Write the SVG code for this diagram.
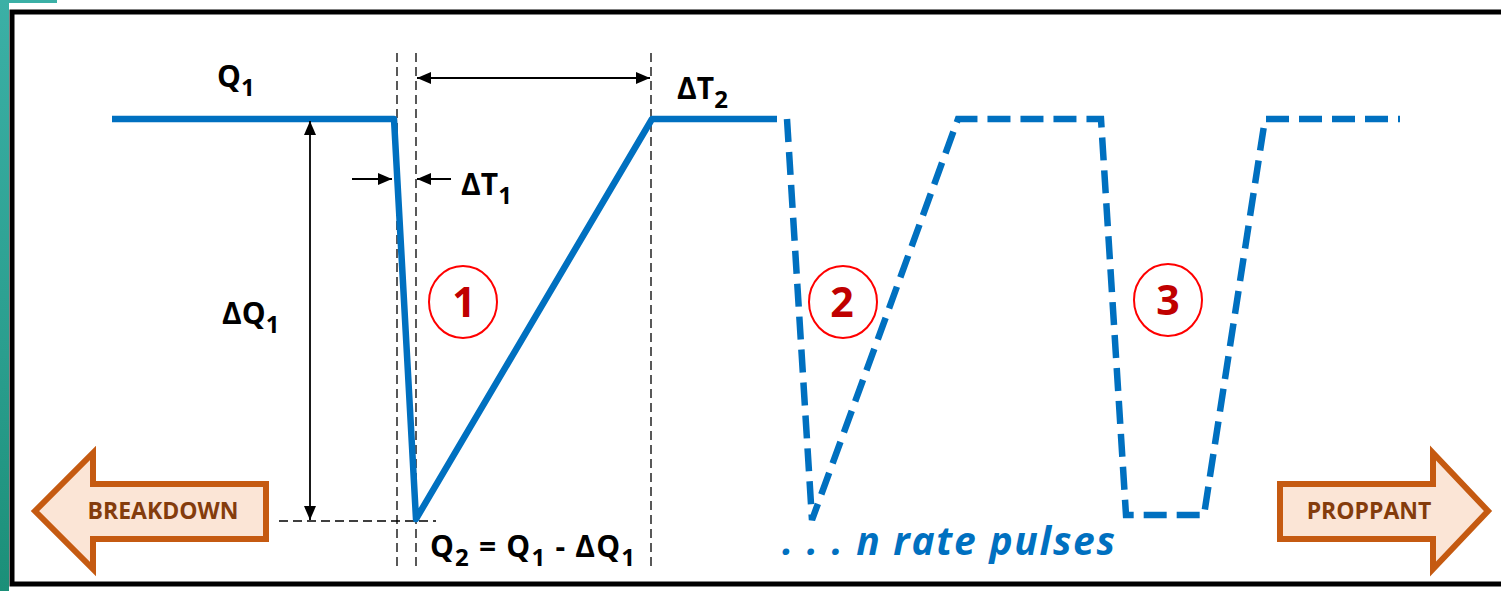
<svg xmlns="http://www.w3.org/2000/svg" width="1501" height="591" viewBox="0 0 1501 591">
<defs>
<linearGradient id="teal" x1="0" y1="0" x2="0" y2="1"><stop offset="0" stop-color="#3BB0A6"/><stop offset="0.6" stop-color="#2A9E8E"/><stop offset="1" stop-color="#1B8F78"/></linearGradient>
<marker id="ah" markerUnits="userSpaceOnUse" markerWidth="14" markerHeight="12" refX="14" refY="6" orient="auto-start-reverse" viewBox="0 0 14 12"><path d="M0,0 L14,6 L0,12 Z" fill="#000"/></marker>
</defs>
<style>
.t{font-family:"Open Sans","Liberation Sans",sans-serif;font-weight:bold;fill:#000;font-size:30px;white-space:pre}
.sub{font-size:24px}
.dim{stroke:#000;stroke-width:1.3;stroke-dasharray:9 5;fill:none}
.arr{stroke:#000;stroke-width:1.8;fill:none}
.rate{fill:none;stroke:#0070C0;stroke-width:6.5}
.numc{fill:none;stroke:#FF0000;stroke-width:2}
.num{font-family:"Open Sans","Liberation Sans",sans-serif;font-weight:bold;font-size:41px;fill:#C00000;text-anchor:middle}
.big{fill:#FBE5D6;stroke:#C55A11;stroke-width:6;stroke-linejoin:miter}
.bl{font-family:"Open Sans","Liberation Sans",sans-serif;font-weight:bold;font-size:23px;fill:#843C0C;text-anchor:middle}
</style>
<rect width="1501" height="591" fill="#FFFFFF"/>
<rect x="0" y="0" width="9" height="591" fill="url(#teal)"/>
<rect x="0" y="0" width="57" height="3" fill="#3BB0A6"/>
<rect x="12" y="12" width="1500" height="572" fill="none" stroke="#000" stroke-width="5"/>

<g id="guides">
<line class="dim" x1="397" y1="53" x2="397" y2="567"/>
<line class="dim" x1="416" y1="53" x2="416" y2="567"/>
<line class="dim" x1="651" y1="53" x2="651" y2="567"/>
<line class="dim" x1="279" y1="521" x2="436" y2="521"/>
</g>

<g id="rate-curve">
<path class="rate" stroke-linejoin="round" d="M112 119 L394 119 L416 519 L652 119 L777 119"/>
<path class="rate" stroke-dasharray="23 10" stroke-linejoin="miter" d="M787 119 L812 520 L958 119 L1101 119 L1126 515 L1204 515 L1265 119 L1400 119"/>
</g>

<g id="connectors">
<line class="arr" x1="417" y1="78" x2="650" y2="78" marker-start="url(#ah)" marker-end="url(#ah)"/>
<line class="arr" x1="352" y1="179" x2="392" y2="179" marker-end="url(#ah)"/>
<line class="arr" x1="451" y1="179" x2="417" y2="179" marker-end="url(#ah)"/>
<line class="arr" x1="310" y1="121" x2="310" y2="520" marker-start="url(#ah)" marker-end="url(#ah)"/>
</g>

<g id="labels">
<text class="t" x="217" y="87">Q<tspan class="sub" dy="9">1</tspan></text>
<text class="t" x="461" y="195">ΔT<tspan class="sub" dy="9">1</tspan></text>
<text class="t" x="677" y="99">ΔT<tspan class="sub" dy="9">2</tspan></text>
<text class="t" x="222" y="324">ΔQ<tspan class="sub" dy="9">1</tspan></text>
<text class="t" x="430" y="557" textLength="205" lengthAdjust="spacing">Q<tspan class="sub" dy="9">2</tspan><tspan dy="-9"> = Q</tspan><tspan class="sub" dy="9">1</tspan><tspan dy="-9"> - ΔQ</tspan><tspan class="sub" dy="9">1</tspan></text>
<text x="782" y="555" textLength="333" lengthAdjust="spacing" style="font-family:'Open Sans','Liberation Sans',sans-serif;font-weight:bold;font-style:italic;font-size:39px;fill:#0070C0;white-space:pre">. . . n rate pulses</text>
</g>

<g id="pulse-1">
<ellipse class="numc" cx="463" cy="302" rx="34" ry="36"/>
<text class="num" x="464" y="317">1</text>
</g>
<g id="pulse-2">
<ellipse class="numc" cx="843" cy="302" rx="34" ry="36"/>
<text class="num" x="842" y="317">2</text>
</g>
<g id="pulse-3">
<ellipse class="numc" cx="1168" cy="300" rx="34" ry="36"/>
<text class="num" x="1168" y="315">3</text>
</g>

<g id="breakdown">
<polygon class="big" points="35,511 93,453 93,484 266,484 266,539 93,539 93,569"/>
<text class="bl" x="163" y="519">BREAKDOWN</text>
</g>
<g id="proppant">
<polygon class="big" points="1280,484 1433,484 1433,453 1488,511 1433,569 1433,539 1280,539"/>
<text class="bl" x="1369" y="519">PROPPANT</text>
</g>
</svg>
